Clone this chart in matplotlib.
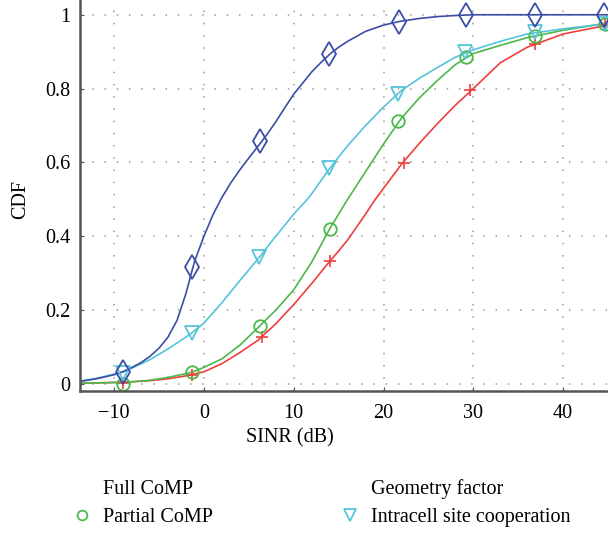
import matplotlib
matplotlib.use("Agg")
import matplotlib.pyplot as plt
from matplotlib.lines import Line2D

plt.rcParams['font.family'] = ['Liberation Serif', 'DejaVu Serif']
FS = 14.5
plt.rcParams['font.size'] = FS

# ---- data ----
geo_x = [-13.8, -12, -10, -9, -8, -7, -6, -5, -4, -3, -2, -1.4, -1, 0, 1, 2, 3, 4, 5, 6, 7, 8, 9, 10,
         11, 12, 13, 14.1, 15, 16, 18, 20, 21.8, 24, 26, 28, 30, 35, 40, 45]
geo_y = [0.007, 0.014, 0.025, 0.033, 0.045, 0.058, 0.075, 0.097, 0.127, 0.172, 0.245, 0.30, 0.335, 0.40,
         0.458, 0.505, 0.545, 0.58, 0.612, 0.643, 0.675, 0.71, 0.748, 0.785,
         0.815, 0.845, 0.87, 0.895, 0.912, 0.928, 0.955, 0.972, 0.982, 0.99, 0.995, 0.998, 1.0, 1.0, 1.0, 1.0]
geo_mx = [-9.05, -1.37, 6.2, 13.95, 21.7, 29.2, 36.9, 44.6]
geo_my = [0.033, 0.317, 0.657, 0.895, 0.98, 0.999, 0.999, 0.999]

intra_x = [-13.8, -12, -10, -9, -8, -6, -4, -2, -1.37, 0, 2, 4, 6, 8, 10, 11.4, 12, 14, 16, 18, 20, 22,
           24, 26, 28, 30, 33, 36, 40, 45]
intra_y = [0.008, 0.015, 0.027, 0.034, 0.043, 0.066, 0.095, 0.127, 0.138, 0.165, 0.22, 0.28, 0.338, 0.40,
           0.46, 0.497, 0.515, 0.584, 0.645, 0.70, 0.75, 0.795, 0.828, 0.857, 0.885, 0.905, 0.928,
           0.948, 0.962, 0.976]
intra_mx = [-9.0, -1.37, 6.1, 13.9, 21.6, 29.1, 36.9, 44.7]
intra_my = [0.03, 0.138, 0.344, 0.584, 0.786, 0.898, 0.952, 0.976]

part_x = [-13.8, -12, -10, -8, -6, -4, -2, -1.3, 0, 2, 4, 6, 8, 10, 12, 14, 16, 18, 20, 22, 24, 26, 28,
          30, 33, 36, 40, 45]
part_y = [0.002, 0.003, 0.004, 0.006, 0.010, 0.018, 0.028, 0.032, 0.045, 0.068, 0.105, 0.152, 0.20,
          0.255, 0.33, 0.42, 0.50, 0.575, 0.65, 0.72, 0.775, 0.822, 0.865, 0.895, 0.917, 0.938, 0.958, 0.978]
part_mx = [-9.0, -1.3, 6.2, 14.0, 21.6, 29.2, 36.9, 44.7]
part_my = [0.0, 0.032, 0.157, 0.421, 0.712, 0.885, 0.943, 0.976]

full_x = [-13.8, -12, -10, -8, -6, -4, -2, 0, 2, 4, 6, 8, 10, 12, 14, 15, 16, 17, 18, 19, 20, 22, 24, 26,
          28, 30, 33, 36, 40, 45]
full_y = [0.002, 0.003, 0.004, 0.006, 0.009, 0.014, 0.022, 0.033, 0.055, 0.085, 0.118, 0.163, 0.215,
          0.272, 0.332, 0.36, 0.39, 0.425, 0.46, 0.497, 0.53, 0.595, 0.652, 0.705, 0.755, 0.80, 0.87,
          0.912, 0.948, 0.972]
full_mx = [-9.0, -1.3, 6.5, 14.0, 22.3, 29.6, 36.9, 44.7]
full_my = [0.004, 0.025, 0.128, 0.332, 0.599, 0.797, 0.921, 0.972]

xticks = [-10, 0, 10, 20, 30, 40]
yticks = [0, 0.2, 0.4, 0.6, 0.8, 1.0]
ytick_labels = ['0', '0.2', '0.4', '0.6', '0.8', '1']

c_geo = '#3b4ea6'
c_intra = '#55c4da'
c_part = '#4cb849'
c_full = '#ee3f3f'

fig = plt.figure(figsize=(6.08, 5.33), dpi=100)
ax = fig.add_axes([80/608, 1 - 391/533, 1 - 80/608, 391/533])

lw = 1.2
ax.plot(full_x, full_y, color=c_full, lw=lw)
ax.plot(part_x, part_y, color=c_part, lw=lw)
ax.plot(intra_x, intra_y, color=c_intra, lw=lw)
ax.plot(geo_x, geo_y, color=c_geo, lw=lw)

ax.plot(full_mx, full_my, ls='none', marker='+', ms=8, mew=1.2, color=c_full, clip_on=False)
ax.plot(part_mx, part_my, ls='none', marker='o', ms=9, mew=1.3, mfc='none', mec=c_part, clip_on=False)
ax.plot(intra_mx, intra_my, ls='none', marker='v', ms=10, mew=1.3, mfc='none', mec=c_intra, clip_on=False)
ax.plot(geo_mx, geo_my, ls='none', marker='d', ms=12, mew=1.3, mfc='none', mec=c_geo, clip_on=False)

ax.set_xlim(-13.8, 45)
ax.set_ylim(-0.019, 1.04)
ax.set_xticks(xticks)
ax.set_yticks(yticks)
ax.set_yticklabels(ytick_labels)
ax.grid(True, color='#9a9a9a', linestyle=(0, (1, 7)), linewidth=1.1)
ax.set_axisbelow(True)
for s in ['top', 'right']:
    ax.spines[s].set_visible(False)
for s in ['left', 'bottom']:
    ax.spines[s].set_color('#555555')
    ax.spines[s].set_linewidth(1.8)
ax.tick_params(direction='in', length=3, color='#555555', labelsize=FS)
ax.tick_params(axis='x', pad=9)
ax.tick_params(axis='y', pad=7)

ax.set_xlabel('SINR (dB)', fontsize=FS)
ax.xaxis.set_label_coords((290 - 80) / 528, -0.095)
ax.set_ylabel('CDF', fontsize=FS)
ax.yaxis.set_label_coords(-0.094, 0.49)

handles = [
    Line2D([], [], ls='none', marker='none'),
    Line2D([], [], ls='none', marker='o', ms=7, mew=1.3, mfc='none', mec=c_part),
    Line2D([], [], ls='none', marker='none'),
    Line2D([], [], ls='none', marker='v', ms=8, mew=1.3, mfc='none', mec=c_intra),
]
labels = ['Full CoMP', 'Partial CoMP', 'Geometry factor', 'Intracell site cooperation']
fig.legend(handles, labels, ncol=2, frameon=False, loc='upper left',
           bbox_to_anchor=(54/608, 1 - 461/533), handlelength=1.0, handletextpad=0.55,
           columnspacing=6.3, labelspacing=0.45, fontsize=FS)

fig.savefig('out.png', dpi=100)
